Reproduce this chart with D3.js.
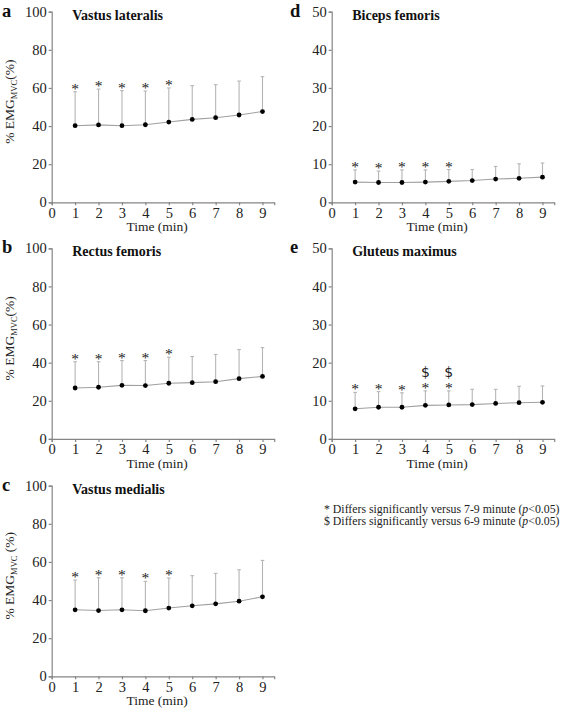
<!DOCTYPE html>
<html>
<head>
<meta charset="utf-8">
<script src="https://cdn.jsdelivr.net/npm/d3@7"></script>
<style>
  html, body { margin: 0; padding: 0; background: #fff; }
  svg { display: block; }
  text { font-family: "Liberation Serif", "Times New Roman", serif; }
</style>
</head>
<body>
<svg id="chart" width="567" height="713"></svg>
<script>
// ---- data ----
const minutes = [1, 2, 3, 4, 5, 6, 7, 8, 9];
const xTicks = [0, 1, 2, 3, 4, 5, 6, 7, 8, 9];

const vlMean = [40.2, 40.6, 40.2, 40.7, 42.1, 43.5, 44.4, 45.8, 47.6];
const vlSD   = [17.8, 18.8, 18.4, 17.7, 17.9, 17.7, 17.3, 17.8, 18.3];

const rfMean = [26.7, 27.1, 28.1, 28.0, 29.2, 29.5, 30.0, 31.6, 32.8];
const rfSD   = [13.8, 13.4, 13.0, 13.1, 13.7, 13.7, 14.3, 15.3, 15.1];

const vmMean = [34.9, 34.5, 34.9, 34.4, 35.8, 37.0, 38.0, 39.4, 41.7];
const vmSD   = [15.6, 17.2, 16.8, 15.4, 15.8, 15.8, 16.0, 16.5, 19.1];

const bfMean = [5.3, 5.2, 5.2, 5.3, 5.5, 5.7, 6.1, 6.3, 6.6];
const bfSD   = [3.2, 3.0, 3.3, 3.2, 3.1, 2.9, 3.3, 3.8, 3.7];

const gmMean = [7.9, 8.3, 8.3, 8.8, 8.9, 9.0, 9.3, 9.5, 9.6];
const gmSD   = [4.3, 4.1, 3.8, 3.8, 3.7, 4.0, 3.7, 4.3, 4.3];

const yTicks100 = [0, 20, 40, 60, 80, 100];
const yTicks50  = [0, 10, 20, 30, 40, 50];

const starMinutes   = [1, 2, 3, 4, 5];
const dollarMinutes = [4, 5];

const legendLines = [
  ["* Differs significantly versus 7-9 minute (", "p", "<0.05)"],
  ["$ Differs significantly versus 6-9 minute (", "p", "<0.05)"]
];

const panels = [
  { letter: "a", title: "Vastus lateralis", mean: vlMean, sd: vlSD, yMax: 100, ticks: yTicks100, col: 0, row: 0, ylab: true, ylabSpace: false, stars: starMinutes, dollars: [] },
  { letter: "b", title: "Rectus femoris",   mean: rfMean, sd: rfSD, yMax: 100, ticks: yTicks100, col: 0, row: 1, ylab: true, ylabSpace: false, stars: starMinutes, dollars: [] },
  { letter: "c", title: "Vastus medialis",  mean: vmMean, sd: vmSD, yMax: 100, ticks: yTicks100, col: 0, row: 2, ylab: true, ylabSpace: true, stars: starMinutes, dollars: [] },
  { letter: "d", title: "Biceps femoris",   mean: bfMean, sd: bfSD, yMax: 50,  ticks: yTicks50,  col: 1, row: 0, ylab: false, stars: starMinutes, dollars: [] },
  { letter: "e", title: "Gluteus maximus",  mean: gmMean, sd: gmSD, yMax: 50,  ticks: yTicks50,  col: 1, row: 1, ylab: false, stars: starMinutes, dollars: dollarMinutes }
];

// ---- layout ----
const svg = d3.select("#chart");
const colX = [51.7, 331.7];
const colLetterX = [2, 290];
const rowTop = [11.7, 248.3, 485.7];
const plotH = 190.6;
const plotW = 222.5;
const axisColor = "#858585";
const barColor = "#b5b5b5";
const lineColor = "#a0a0a0";

panels.forEach(p => {
  const x0 = colX[p.col], y0 = rowTop[p.row];
  const x = d3.scaleLinear().domain([0, 9.5]).range([x0, x0 + plotW]);
  const y = d3.scaleLinear().domain([0, p.yMax]).range([y0 + plotH, y0]);
  const g = svg.append("g");

  // axes
  const yAxis = d3.axisLeft(y).tickValues(p.ticks).tickSize(3).tickPadding(2).tickFormat(d3.format("d"));
  const gy = g.append("g").attr("transform", `translate(${x0},0)`).call(yAxis);
  const xAxis = d3.axisBottom(x).tickValues(xTicks).tickSize(3).tickPadding(2).tickFormat(d3.format("d"));
  const gx = g.append("g").attr("transform", `translate(0,${y0 + plotH})`).call(xAxis);
  [gx, gy].forEach(a => {
    a.select(".domain").attr("stroke", axisColor).attr("stroke-width", 1.2);
    a.selectAll(".tick line").attr("stroke", axisColor).attr("stroke-width", 1.2);
    a.selectAll(".tick text").attr("fill", "#222").style("font-size", "14.5px")
      .style("font-family", "'Liberation Serif', serif");
  });
  gx.selectAll(".tick text").attr("dy", "0.71em");

  const data = minutes.map((m, i) => ({ m, mean: p.mean[i], top: p.mean[i] + p.sd[i] }));

  // error bars
  g.selectAll(".err").data(data).enter().append("line")
    .attr("x1", d => x(d.m)).attr("x2", d => x(d.m))
    .attr("y1", d => y(d.mean)).attr("y2", d => y(d.top))
    .attr("stroke", barColor).attr("stroke-width", 1.1);
  g.selectAll(".cap").data(data).enter().append("line")
    .attr("x1", d => x(d.m) - 1.8).attr("x2", d => x(d.m) + 1.8)
    .attr("y1", d => y(d.top)).attr("y2", d => y(d.top))
    .attr("stroke", barColor).attr("stroke-width", 1.1);

  // mean line
  g.append("path").datum(data)
    .attr("d", d3.line().x(d => x(d.m)).y(d => y(d.mean)))
    .attr("fill", "none").attr("stroke", lineColor).attr("stroke-width", 1.1);

  // dots
  g.selectAll(".dot").data(data).enter().append("circle")
    .attr("cx", d => x(d.m)).attr("cy", d => y(d.mean)).attr("r", 2.4).attr("fill", "#000");

  // significance markers
  g.selectAll(".star").data(data.filter(d => p.stars.includes(d.m))).enter().append("text")
    .attr("x", d => x(d.m)).attr("y", d => y(d.top) + 2)
    .attr("text-anchor", "middle").style("font-size", "15.5px").attr("fill", "#222").text("*");
  g.selectAll(".dollar").data(data.filter(d => p.dollars.includes(d.m))).enter().append("text")
    .attr("x", d => x(d.m)).attr("y", d => y(d.top) - 14)
    .attr("text-anchor", "middle").style("font-size", "14px").style("font-family", "'DejaVu Sans', sans-serif")
    .attr("fill", "#222").text("$");

  // panel letter and title
  g.append("text").attr("x", colLetterX[p.col]).attr("y", y0 + 5)
    .style("font-size", "18.5px").style("font-weight", "bold").attr("fill", "#111").text(p.letter);
  g.append("text").attr("x", x0 + 20.5).attr("y", y0 + 7.8)
    .style("font-size", "14px").style("font-weight", "bold").attr("fill", "#111").text(p.title);

  // x label
  g.append("text").attr("x", x(4.5)).attr("y", y0 + plotH + 29)
    .attr("text-anchor", "middle").style("font-size", "13.5px").attr("fill", "#222").text("Time (min)");

  // y label
  if (p.ylab) {
    const t = g.append("text")
      .attr("transform", `translate(14,${y0 + 90}) rotate(-90)`)
      .attr("text-anchor", "middle").style("font-size", "13.5px").attr("fill", "#222");
    t.append("tspan").text("% EMG");
    t.append("tspan").attr("dy", 3).style("font-size", "8.5px").text("MVC");
    t.append("tspan").attr("dy", -3).text(p.ylabSpace ? " (%)" : "(%)");
  }
});

// legend
const leg = svg.append("g");
legendLines.forEach((parts, i) => {
  const t = leg.append("text").attr("x", 324).attr("y", 512.5 + i * 12.8)
    .style("font-size", "11.8px").attr("fill", "#222");
  t.append("tspan").text(parts[0]);
  t.append("tspan").style("font-style", "italic").text(parts[1]);
  t.append("tspan").text(parts[2]);
});
</script>
</body>
</html>
